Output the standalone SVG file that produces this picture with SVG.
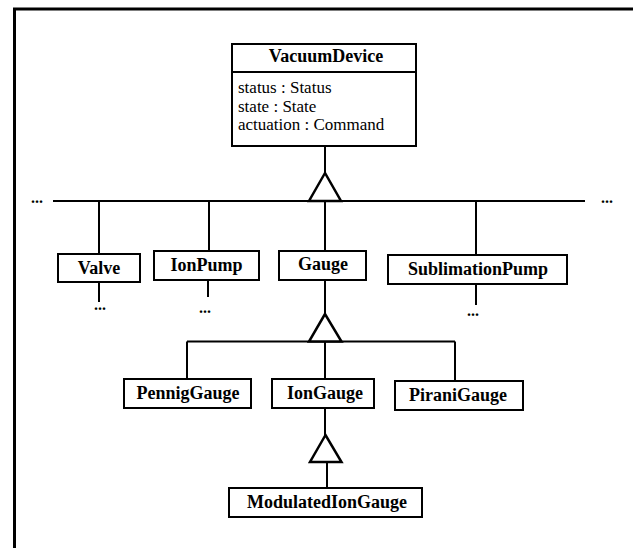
<svg xmlns="http://www.w3.org/2000/svg" width="633" height="548" viewBox="0 0 633 548">
<style>
.box{fill:#fff;stroke:#000;stroke-width:2}
.t{font-family:"Liberation Serif","Times New Roman",serif;font-size:18px;font-weight:bold;text-anchor:middle;fill:#000}
.a{font-family:"Liberation Serif","Times New Roman",serif;font-size:17px;fill:#000}
.d{font-family:"Liberation Serif","Times New Roman",serif;font-size:16px;font-weight:bold;text-anchor:middle;fill:#000}
.ln{stroke:#000;stroke-width:2;fill:none}
.tri{fill:#fff;stroke:#000;stroke-width:2.5;stroke-linejoin:miter}
</style>
<rect width="633" height="548" fill="#fff"/>
<rect x="14.5" y="9" width="640" height="560" fill="none" stroke="#000" stroke-width="3"/>
<g id="connectors">
<line class="ln" x1="325" y1="146" x2="325" y2="173"/>
<line class="ln" x1="53" y1="201" x2="585" y2="201"/>
<line class="ln" x1="99" y1="201" x2="99" y2="254"/>
<line class="ln" x1="209" y1="201" x2="209" y2="251"/>
<line class="ln" x1="325" y1="201" x2="325" y2="251"/>
<line class="ln" x1="476" y1="201" x2="476" y2="255"/>
<line class="ln" x1="99" y1="282" x2="99" y2="302"/>
<line class="ln" x1="208" y1="280" x2="208" y2="297"/>
<line class="ln" x1="476" y1="284" x2="476" y2="305"/>
<polygon class="tri" points="325,173 309,201 341,201"/>
<line class="ln" x1="325" y1="280" x2="325" y2="314"/>
<line class="ln" x1="187" y1="341.5" x2="455" y2="341.5"/>
<line class="ln" x1="187" y1="341.5" x2="187" y2="379"/>
<line class="ln" x1="325" y1="341.5" x2="325" y2="379"/>
<line class="ln" x1="455" y1="341.5" x2="455" y2="381"/>
<polygon class="tri" points="325,314 309,341.5 341.5,341.5"/>
<line class="ln" x1="325" y1="408" x2="325" y2="435"/>
<line class="ln" x1="327" y1="462" x2="327" y2="488"/>
<polygon class="tri" points="325.5,435 310,462 341.5,462"/>
<text class="d" x="37" y="203">...</text>
<text class="d" x="607" y="203">...</text>
<text class="d" x="100" y="310">...</text>
<text class="d" x="205" y="313">...</text>
<text class="d" x="473" y="316">...</text>
</g>
<g id="VacuumDevice">
<rect class="box" x="232" y="44" width="184" height="102"/>
<line class="ln" x1="232" y1="72" x2="416" y2="72"/>
<text class="t" x="326" y="62">VacuumDevice</text>
<text class="a" x="238" y="93">status : Status</text>
<text class="a" x="238" y="111.5">state : State</text>
<text class="a" x="238" y="130">actuation : Command</text>
</g>
<g id="Valve">
<rect class="box" x="58" y="254" width="82" height="28"/>
<text class="t" x="99" y="274">Valve</text>
</g>
<g id="IonPump">
<rect class="box" x="154" y="251" width="105" height="29"/>
<text class="t" x="206.5" y="271">IonPump</text>
</g>
<g id="Gauge">
<rect class="box" x="279" y="251" width="87" height="29"/>
<text class="t" x="323" y="270">Gauge</text>
</g>
<g id="SublimationPump">
<rect class="box" x="388" y="255" width="179" height="29"/>
<text class="t" x="478" y="275">SublimationPump</text>
</g>
<g id="PennigGauge">
<rect class="box" x="124" y="379" width="127" height="29"/>
<text class="t" x="188" y="399">PennigGauge</text>
</g>
<g id="IonGauge">
<rect class="box" x="272" y="379" width="102" height="29"/>
<text class="t" x="325" y="399">IonGauge</text>
</g>
<g id="PiraniGauge">
<rect class="box" x="395" y="381" width="128" height="29"/>
<text class="t" x="458" y="401">PiraniGauge</text>
</g>
<g id="ModulatedIonGauge">
<rect class="box" x="229" y="488" width="193" height="29"/>
<text class="t" x="327" y="508">ModulatedIonGauge</text>
</g>
</svg>
